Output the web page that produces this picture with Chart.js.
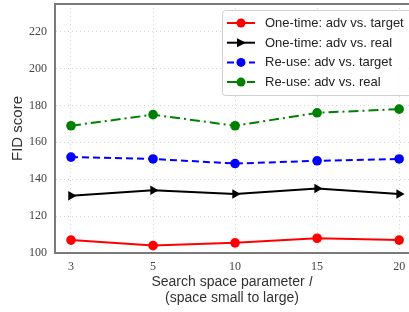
<!DOCTYPE html>
<html>
<head>
<meta charset="utf-8">
<script src="https://cdn.jsdelivr.net/npm/chart.js@4/dist/chart.umd.min.js"></script>
<style>
  html, body { margin: 0; padding: 0; background: #fff; }
  #wrap { width: 409px; height: 312px; }
</style>
</head>
<body>
<div id="wrap"><canvas id="chart" width="409" height="312"></canvas></div>
<script>
// search space parameter l (x categories)
const spaceLabels = ['3', '5', '10', '15', '20'];

// FID scores
const oneTimeTarget = [107, 104, 105.5, 108, 107];
const oneTimeReal   = [131, 134, 132, 135, 132];
const reuseTarget   = [152, 151, 148.5, 150, 151];
const reuseReal     = [169, 175, 169, 176, 178];

const yMin = 100, yMax = 235, yStep = 20;

const sansFont = "'Liberation Sans', Arial, sans-serif";
const serifFont = "'Liberation Serif', 'DejaVu Serif', serif";

function points(vals) {
  return vals.map((v, i) => ({ x: i, y: v }));
}

// draws the top spine and the legend box (matplotlib style, inside the axes)
const framePlugin = {
  id: 'frame',
  afterDraw(chart) {
    const ctx = chart.ctx;
    const area = chart.chartArea;
    ctx.save();
    ctx.strokeStyle = '#7a7a7a';
    ctx.lineWidth = 2;
    ctx.beginPath();
    ctx.moveTo(area.left - 1, area.top);
    ctx.lineTo(area.right + 2, area.top);
    ctx.stroke();

    // legend
    const bx = 222, by = 10, bw = 192, bh = 85;
    ctx.fillStyle = 'rgba(255,255,255,0.85)';
    ctx.strokeStyle = '#d0d0d0';
    ctx.lineWidth = 1;
    ctx.beginPath();
    ctx.roundRect(bx + 0.5, by + 0.5, bw, bh, 3);
    ctx.fill();
    ctx.stroke();

    ctx.font = '13px ' + sansFont;
    ctx.textBaseline = 'middle';
    chart.data.datasets.forEach((ds, i) => {
      const y = 23 + i * 19.7;
      ctx.strokeStyle = ds.borderColor;
      ctx.lineWidth = ds.borderWidth;
      ctx.setLineDash(ds.borderDash || []);
      ctx.beginPath();
      ctx.moveTo(227, y);
      ctx.lineTo(255, y);
      ctx.stroke();
      ctx.setLineDash([]);
      ctx.fillStyle = ds.pointBackgroundColor;
      ctx.beginPath();
      if (ds.pointStyle === 'triangle') {
        ctx.moveTo(246, y);
        ctx.lineTo(237, y - 4.5);
        ctx.lineTo(237, y + 4.5);
        ctx.closePath();
      } else {
        ctx.arc(241, y, 4.5, 0, Math.PI * 2);
      }
      ctx.fill();
      ctx.fillStyle = '#222';
      ctx.fillText(ds.label, 265, y + 0.5);
    });
    ctx.restore();
  }
};

const datasets = [
  {
    label: 'One-time: adv vs. target',
    data: points(oneTimeTarget),
    borderColor: '#ff0000',
    pointBackgroundColor: '#ff0000',
    pointStyle: 'circle'
  },
  {
    label: 'One-time: adv vs. real',
    data: points(oneTimeReal),
    borderColor: '#000000',
    pointBackgroundColor: '#000000',
    pointStyle: 'triangle',
    pointRotation: 90
  },
  {
    label: 'Re-use: adv vs. target',
    data: points(reuseTarget),
    borderColor: '#0000ff',
    pointBackgroundColor: '#0000ff',
    pointStyle: 'circle',
    borderDash: [7, 4]
  },
  {
    label: 'Re-use: adv vs. real',
    data: points(reuseReal),
    borderColor: '#008000',
    pointBackgroundColor: '#008000',
    pointStyle: 'circle',
    borderDash: [10, 4, 2, 4]
  }
];
datasets.forEach(ds => {
  ds.borderWidth = 2;
  ds.pointRadius = ds.pointStyle === 'triangle' ? 5.5 : 4.8;
  ds.pointBorderWidth = 0;
  ds.pointBorderColor = ds.borderColor;
  ds.tension = 0;
  ds.fill = false;
});

new Chart(document.getElementById('chart'), {
  type: 'line',
  data: { datasets },
  options: {
    responsive: false,
    animation: false,
    layout: { autoPadding: false, padding: { top: 4, right: 0, left: 0, bottom: 6 } },
    plugins: {
      legend: { display: false },
      tooltip: { enabled: false }
    },
    scales: {
      x: {
        type: 'linear',
        min: -0.195,
        max: 4.12,
        afterFit(scale) {
          scale.height = 53;
          scale.paddingLeft = 0;
          scale.paddingRight = 0;
        },
        ticks: {
          stepSize: 1,
          includeBounds: false,
          autoSkip: false,
          maxRotation: 0,
          padding: 7,
          color: '#444',
          font: { family: serifFont, size: 12 },
          callback: v => Number.isInteger(v) ? spaceLabels[v] : ''
        },
        grid: { color: '#d4d4d4', lineWidth: 1, drawTicks: false },
        border: { color: '#7a7a7a', width: 2, dash: [1, 3] },
        title: {
          display: true,
          text: ['Search space parameter \uD835\uDC59', '(space small to large)'],
          color: '#333',
          font: { family: sansFont, size: 14, lineHeight: 1.15 },
          padding: { top: 2, bottom: 0 }
        }
      },
      y: {
        min: yMin,
        max: yMax,
        afterFit(scale) {
          scale.width = 55;
          scale.paddingTop = 0;
          scale.paddingBottom = 0;
        },
        ticks: {
          stepSize: yStep,
          includeBounds: false,
          padding: 8,
          color: '#444',
          font: { family: serifFont, size: 12 }
        },
        grid: { color: '#d4d4d4', lineWidth: 1, drawTicks: false },
        border: { color: '#7a7a7a', width: 2, dash: [1, 3] },
        title: {
          display: true,
          text: 'FID score',
          color: '#333',
          font: { family: sansFont, size: 15 },
          padding: { top: 9, bottom: 4 }
        }
      }
    }
  },
  plugins: [framePlugin]
});
</script>
</body>
</html>
